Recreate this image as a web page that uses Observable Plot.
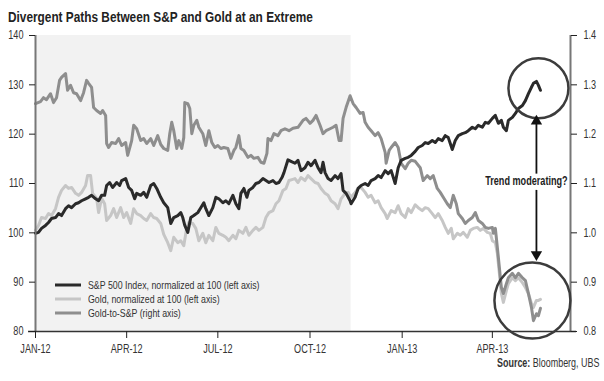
<!DOCTYPE html>
<html><head><meta charset="utf-8">
<script src="https://cdn.jsdelivr.net/npm/d3@7"></script>
<script src="https://cdn.jsdelivr.net/npm/@observablehq/plot@0.6"></script>
<style>
body{margin:0;background:#fff;}
#wrap{position:relative;width:604px;height:381px;overflow:hidden;font-family:"Liberation Sans",Arial,sans-serif;color:#222;}
#title{height:26px;box-sizing:border-box;padding:10px 0 0 8px;font-size:14px;line-height:14px;font-weight:bold;color:#222;white-space:nowrap;}
#title span{display:inline-block;transform:scaleX(0.845);transform-origin:0 50%;}
#legend{position:absolute;left:55px;top:278px;font-size:11px;color:#333;line-height:14px;}
#legend div{display:flex;align-items:center;height:14px;white-space:nowrap;}
#legend svg{margin-right:7px;flex:none;}
#legend span{display:inline-block;transform:scaleX(0.8);transform-origin:0 50%;}
#source{position:absolute;right:5px;top:356px;font-size:12px;color:#333;white-space:nowrap;transform:scaleX(0.745);transform-origin:100% 50%;}
</style></head>
<body><div id="wrap"><div id="title"><span>Divergent Paths Between S&amp;P and Gold at an Extreme</span></div><div id="chart"></div><div id="legend"></div><div id="source"><b>Source:</b> Bloomberg, UBS</div></div>
<script>
// ---- data ----
const sp500 = [["2012-01-01",99.9],["2012-01-04",100.1],["2012-01-07",100.9],["2012-01-11",101.5],["2012-01-14",102.1],["2012-01-17",102.9],["2012-01-21",103.1],["2012-01-24",103.9],["2012-01-27",103.5],["2012-01-31",104.9],["2012-02-03",105.5],["2012-02-06",105.1],["2012-02-10",105.9],["2012-02-13",106.1],["2012-02-16",106.5],["2012-02-20",106.9],["2012-02-23",107.2],["2012-02-26",107.6],["2012-03-01",106.9],["2012-03-04",106.5],["2012-03-07",107.6],["2012-03-10",107.6],["2012-03-12",109.6],["2012-03-15",110.2],["2012-03-18",109.2],["2012-03-22",110.2],["2012-03-25",109.6],["2012-03-27",110.6],["2012-03-31",111.0],["2012-04-03",109.2],["2012-04-06",108.6],["2012-04-09",106.9],["2012-04-11",108.0],["2012-04-15",107.6],["2012-04-18",108.2],["2012-04-21",107.2],["2012-04-25",109.6],["2012-04-28",110.0],["2012-05-01",109.0],["2012-05-05",107.2],["2012-05-08",106.1],["2012-05-12",105.1],["2012-05-15",101.9],["2012-05-18",103.1],["2012-05-22",103.5],["2012-05-25",104.1],["2012-05-27",103.1],["2012-05-29",101.5],["2012-06-01",100.1],["2012-06-04",103.1],["2012-06-07",103.5],["2012-06-11",104.1],["2012-06-14",105.1],["2012-06-17",106.1],["2012-06-19",104.9],["2012-06-22",103.5],["2012-06-26",105.1],["2012-06-29",107.2],["2012-07-02",106.9],["2012-07-06",106.1],["2012-07-09",106.5],["2012-07-12",105.9],["2012-07-16",107.6],["2012-07-19",105.9],["2012-07-22",104.9],["2012-07-24",108.0],["2012-07-27",109.0],["2012-07-30",107.2],["2012-08-01",108.6],["2012-08-05",109.2],["2012-08-08",110.0],["2012-08-11",110.2],["2012-08-15",111.0],["2012-08-18",110.6],["2012-08-21",110.2],["2012-08-25",110.6],["2012-08-28",110.0],["2012-08-31",110.2],["2012-09-03",111.2],["2012-09-05",112.2],["2012-09-09",114.8],["2012-09-12",114.5],["2012-09-16",114.1],["2012-09-19",114.7],["2012-09-22",112.6],["2012-09-26",113.2],["2012-09-29",114.3],["2012-10-02",113.6],["2012-10-06",114.7],["2012-10-09",113.2],["2012-10-12",112.2],["2012-10-14",114.3],["2012-10-16",112.2],["2012-10-19",111.0],["2012-10-22",110.6],["2012-10-26",111.6],["2012-10-29",111.0],["2012-11-01",112.0],["2012-11-03",108.6],["2012-11-06",108.0],["2012-11-10",106.5],["2012-11-11",105.9],["2012-11-15",107.2],["2012-11-18",109.0],["2012-11-21",109.6],["2012-11-25",110.0],["2012-11-28",109.6],["2012-12-01",110.6],["2012-12-05",111.0],["2012-12-08",111.6],["2012-12-11",111.2],["2012-12-15",112.6],["2012-12-18",112.0],["2012-12-21",112.6],["2012-12-25",110.0],["2012-12-28",113.2],["2012-12-31",114.7],["2013-01-04",115.1],["2013-01-07",115.3],["2013-01-10",115.7],["2013-01-14",116.5],["2013-01-17",117.3],["2013-01-21",117.7],["2013-01-24",118.3],["2013-01-27",118.1],["2013-01-31",118.7],["2013-02-03",118.3],["2013-02-06",119.1],["2013-02-10",118.7],["2013-02-13",119.7],["2013-02-16",119.3],["2013-02-18",118.1],["2013-02-20",116.9],["2013-02-23",118.7],["2013-02-26",119.7],["2013-03-02",120.1],["2013-03-05",120.3],["2013-03-08",120.7],["2013-03-12",121.4],["2013-03-15",121.1],["2013-03-18",121.8],["2013-03-22",121.4],["2013-03-25",122.4],["2013-03-28",122.2],["2013-04-01",123.2],["2013-04-04",123.8],["2013-04-07",122.2],["2013-04-10",122.8],["2013-04-12",121.4],["2013-04-15",120.7],["2013-04-17",122.8],["2013-04-21",123.4],["2013-04-24",124.2],["2013-04-27",125.2],["2013-05-01",125.8],["2013-05-04",126.8],["2013-05-07",128.2],["2013-05-10",129.5],["2013-05-12",130.3],["2013-05-15",130.7],["2013-05-17",129.9],["2013-05-19",128.9]];

const gold = [["2012-01-01",100.5],["2012-01-04",101.5],["2012-01-07",103.1],["2012-01-11",102.9],["2012-01-14",103.9],["2012-01-17",103.5],["2012-01-21",104.9],["2012-01-24",107.2],["2012-01-27",108.6],["2012-01-31",109.6],["2012-02-03",109.0],["2012-02-06",109.2],["2012-02-10",108.0],["2012-02-13",107.6],["2012-02-16",108.2],["2012-02-20",109.6],["2012-02-22",111.6],["2012-02-25",111.6],["2012-02-27",108.0],["2012-03-02",107.0],["2012-03-04",104.1],["2012-03-07",107.0],["2012-03-10",105.9],["2012-03-12",102.5],["2012-03-16",103.5],["2012-03-19",104.9],["2012-03-22",103.1],["2012-03-26",105.1],["2012-03-29",103.1],["2012-04-01",104.1],["2012-04-05",101.9],["2012-04-08",104.9],["2012-04-11",103.9],["2012-04-15",103.5],["2012-04-18",102.9],["2012-04-21",102.5],["2012-04-25",103.9],["2012-04-28",103.1],["2012-05-01",102.9],["2012-05-05",101.9],["2012-05-08",99.7],["2012-05-12",98.0],["2012-05-15",96.4],["2012-05-18",99.1],["2012-05-22",98.0],["2012-05-25",98.4],["2012-05-28",97.4],["2012-05-31",101.1],["2012-06-02",102.1],["2012-06-06",101.9],["2012-06-09",100.9],["2012-06-12",98.4],["2012-06-16",99.9],["2012-06-19",98.0],["2012-06-22",99.5],["2012-06-26",98.4],["2012-06-29",101.1],["2012-07-02",99.9],["2012-07-06",99.5],["2012-07-09",99.1],["2012-07-12",98.4],["2012-07-16",99.5],["2012-07-19",98.8],["2012-07-22",100.5],["2012-07-26",99.9],["2012-07-29",101.1],["2012-08-01",99.5],["2012-08-05",100.5],["2012-08-08",101.1],["2012-08-11",100.5],["2012-08-15",101.1],["2012-08-18",103.1],["2012-08-21",104.1],["2012-08-25",104.5],["2012-08-28",105.9],["2012-08-31",106.5],["2012-09-04",108.6],["2012-09-07",109.0],["2012-09-10",110.6],["2012-09-13",110.8],["2012-09-16",111.0],["2012-09-19",110.2],["2012-09-22",111.2],["2012-09-26",110.6],["2012-09-29",111.6],["2012-10-02",111.0],["2012-10-06",110.2],["2012-10-09",110.0],["2012-10-12",109.0],["2012-10-16",108.0],["2012-10-19",107.6],["2012-10-22",106.5],["2012-10-26",105.9],["2012-10-29",104.9],["2012-11-01",106.9],["2012-11-05",108.0],["2012-11-08",108.2],["2012-11-11",107.2],["2012-11-15",108.2],["2012-11-18",109.0],["2012-11-21",109.2],["2012-11-25",108.2],["2012-11-28",107.2],["2012-12-01",107.6],["2012-12-05",106.1],["2012-12-08",106.5],["2012-12-11",105.1],["2012-12-15",103.9],["2012-12-17",102.9],["2012-12-21",104.5],["2012-12-25",104.1],["2012-12-28",105.5],["2012-12-31",103.9],["2013-01-04",103.1],["2013-01-07",104.9],["2013-01-10",104.1],["2013-01-14",105.7],["2013-01-17",105.1],["2013-01-21",104.5],["2013-01-24",105.1],["2013-01-27",104.9],["2013-01-31",103.9],["2013-02-03",103.1],["2013-02-06",103.9],["2013-02-10",102.5],["2013-02-13",101.1],["2013-02-16",99.9],["2013-02-19",100.9],["2013-02-21",98.8],["2013-02-25",99.9],["2013-02-28",99.5],["2013-03-03",100.1],["2013-03-07",99.1],["2013-03-10",100.5],["2013-03-13",100.9],["2013-03-17",101.1],["2013-03-20",100.5],["2013-03-23",100.9],["2013-03-27",100.1],["2013-03-30",99.9],["2013-04-01",98.4],["2013-04-04",98.0],["2013-04-06",95.8],["2013-04-08",91.8],["2013-04-10",87.7],["2013-04-12",85.9],["2013-04-15",88.3],["2013-04-17",89.7],["2013-04-21",90.9],["2013-04-24",90.3],["2013-04-27",90.9],["2013-05-01",89.9],["2013-05-04",88.9],["2013-05-07",87.7],["2013-05-10",85.7],["2013-05-12",84.9],["2013-05-15",86.3],["2013-05-17",86.3],["2013-05-19",86.5]];

const goldToSP = [["2012-01-01",1.262],["2012-01-06",1.266],["2012-01-09",1.274],["2012-01-12",1.270],["2012-01-16",1.282],["2012-01-19",1.264],["2012-01-22",1.274],["2012-01-25",1.309],["2012-01-27",1.315],["2012-01-31",1.323],["2012-02-02",1.289],["2012-02-05",1.299],["2012-02-08",1.284],["2012-02-11",1.282],["2012-02-15",1.268],["2012-02-18",1.284],["2012-02-21",1.309],["2012-02-23",1.303],["2012-02-26",1.295],["2012-02-28",1.254],["2012-03-02",1.248],["2012-03-06",1.242],["2012-03-08",1.248],["2012-03-11",1.238],["2012-03-12",1.181],["2012-03-14",1.173],["2012-03-17",1.183],["2012-03-21",1.181],["2012-03-24",1.191],["2012-03-27",1.177],["2012-03-31",1.183],["2012-04-02",1.157],["2012-04-06",1.187],["2012-04-08",1.218],["2012-04-11",1.211],["2012-04-15",1.187],["2012-04-18",1.191],["2012-04-21",1.181],["2012-04-25",1.191],["2012-04-28",1.177],["2012-05-02",1.197],["2012-05-05",1.179],["2012-05-08",1.171],["2012-05-12",1.167],["2012-05-14",1.201],["2012-05-16",1.224],["2012-05-18",1.207],["2012-05-21",1.171],["2012-05-23",1.187],["2012-05-26",1.171],["2012-05-28",1.193],["2012-05-29",1.264],["2012-06-01",1.262],["2012-06-03",1.252],["2012-06-05",1.201],["2012-06-07",1.218],["2012-06-10",1.228],["2012-06-12",1.214],["2012-06-16",1.201],["2012-06-19",1.177],["2012-06-22",1.207],["2012-06-25",1.183],["2012-06-28",1.173],["2012-07-01",1.177],["2012-07-04",1.171],["2012-07-07",1.173],["2012-07-11",1.171],["2012-07-14",1.151],["2012-07-17",1.167],["2012-07-19",1.173],["2012-07-22",1.197],["2012-07-24",1.171],["2012-07-27",1.167],["2012-07-31",1.153],["2012-08-03",1.157],["2012-08-06",1.151],["2012-08-10",1.153],["2012-08-13",1.143],["2012-08-16",1.141],["2012-08-19",1.161],["2012-08-20",1.191],["2012-08-23",1.187],["2012-08-26",1.201],["2012-08-30",1.197],["2012-09-02",1.207],["2012-09-06",1.211],["2012-09-10",1.207],["2012-09-14",1.212],["2012-09-19",1.214],["2012-09-24",1.228],["2012-09-27",1.232],["2012-10-01",1.222],["2012-10-04",1.228],["2012-10-07",1.238],["2012-10-11",1.218],["2012-10-14",1.201],["2012-10-17",1.207],["2012-10-21",1.211],["2012-10-24",1.214],["2012-10-27",1.218],["2012-10-30",1.187],["2012-11-01",1.187],["2012-11-03",1.232],["2012-11-06",1.254],["2012-11-10",1.278],["2012-11-13",1.262],["2012-11-16",1.254],["2012-11-20",1.242],["2012-11-23",1.244],["2012-11-25",1.224],["2012-11-28",1.214],["2012-12-01",1.207],["2012-12-05",1.197],["2012-12-08",1.203],["2012-12-11",1.191],["2012-12-15",1.163],["2012-12-16",1.141],["2012-12-19",1.167],["2012-12-21",1.173],["2012-12-25",1.183],["2012-12-28",1.173],["2012-12-31",1.141],["2013-01-04",1.130],["2013-01-07",1.141],["2013-01-10",1.147],["2013-01-14",1.145],["2013-01-19",1.132],["2013-01-22",1.106],["2013-01-26",1.116],["2013-01-29",1.110],["2013-02-01",1.116],["2013-02-05",1.090],["2013-02-08",1.082],["2013-02-11",1.072],["2013-02-15",1.059],["2013-02-18",1.051],["2013-02-21",1.076],["2013-02-24",1.059],["2013-02-26",1.039],["2013-03-02",1.029],["2013-03-05",1.019],["2013-03-08",1.025],["2013-03-12",1.031],["2013-03-15",1.041],["2013-03-18",1.025],["2013-03-22",1.019],["2013-03-25",1.011],["2013-03-28",1.009],["2013-04-01",1.011],["2013-04-02",0.999],["2013-04-04",1.009],["2013-04-06",0.970],["2013-04-08",0.930],["2013-04-10",0.889],["2013-04-12",0.877],["2013-04-15",0.897],["2013-04-17",0.909],["2013-04-21",0.918],["2013-04-24",0.909],["2013-04-27",0.918],["2013-05-01",0.909],["2013-05-04",0.903],["2013-05-07",0.877],["2013-05-10",0.849],["2013-05-12",0.822],["2013-05-15",0.836],["2013-05-17",0.832],["2013-05-19",0.847]];

const leftTicks = [80, 90, 100, 110, 120, 130, 140];
const rightTicks = [0.8, 0.9, 1.0, 1.1, 1.2, 1.3, 1.4];
const xTicks = ["2012-01-01","2012-04-01","2012-07-01","2012-10-01","2013-01-01","2013-04-01"];
const xDomain = ["2012-01-01","2013-06-18"];
const shaded = ["2012-01-01","2012-11-11"];
const seriesNames = ["S&P 500 Index, normalized at 100 (left axis)","Gold, normalized at 100 (left axis)","Gold-to-S&P (right axis)"];
const seriesColors = ["#2a2a2a","#c6c6c6","#8e8e8e"];
// annotations (data coordinates)
const circles = [{date:"2013-05-17", value:129.3, r:30},{date:"2013-05-11", value:86.3, r:38}];
const arrows = [{date:"2013-05-15", from:112.0, to:122.6, rot:0},{date:"2013-05-15", from:108.7, to:95.6, rot:180}];
const note = {date:"2013-05-05", value:110.4, text:"Trend moderating?"};

// ---- build ----
const D = s => new Date(s);
const toRows = arr => arr.map(([d, v]) => ({date: D(d), value: v}));
const spRows = toRows(sp500), goldRows = toRows(gold), ratioRows = toRows(goldToSP);
const font = '"Liberation Sans",Arial,sans-serif';
const fmtX = d => d3.utcFormat("%b-%y")(d).toUpperCase();

const chart = Plot.plot({
  width: 604, height: 355,
  marginTop: 9, marginBottom: 50, marginLeft: 35, marginRight: 34,
  style: {fontFamily: font, fontSize: "12px", color: "#333", background: "transparent", overflow: "visible"},
  x: {type: "utc", domain: xDomain.map(D)},
  y: {domain: [80, 140]},
  r: {type: "identity"},
  marks: [
    Plot.rect([0], {x1: () => D(shaded[0]), x2: () => D(shaded[1]), y1: 80, y2: 140, fill: "#f2f2f2"}),
    Plot.line(goldRows, {x: "date", y: "value", stroke: seriesColors[1], strokeWidth: 3, strokeLinejoin: "round"}),
    Plot.line(ratioRows, {x: "date", y: d => d.value * 100, stroke: seriesColors[2], strokeWidth: 3, strokeLinejoin: "round"}),
    Plot.line(spRows, {x: "date", y: "value", stroke: seriesColors[0], strokeWidth: 3, strokeLinejoin: "round"}),
    Plot.ruleX([D(xDomain[0])], {stroke: "#777", strokeWidth: 2}),
    Plot.ruleX([D(xDomain[1])], {stroke: "#777", strokeWidth: 2}),
    Plot.ruleY([80], {stroke: "#333", strokeWidth: 1.5, insetLeft: -7, insetRight: -6}),
    Plot.axisY({ticks: leftTicks, tickSize: 6, tickPadding: 6, tickFormat: d => d, stroke: "#222", fill: "#333", fontSize: 12}),
    Plot.axisY({anchor: "right", ticks: rightTicks.map(r => r * 100), tickSize: 6, tickPadding: 7, tickFormat: d => (d / 100).toFixed(1), stroke: "#222", fill: "#333", fontSize: 12}),
    Plot.axisX({ticks: xTicks.map(D), tickSize: 7, tickPadding: 6, tickFormat: fmtX, stroke: "#222", fill: "#333", fontSize: 12}),
    Plot.dot(circles, {x: d => D(d.date), y: "value", r: "r", stroke: "#3c3c3c", strokeWidth: 2.5, fill: "none"}),
    Plot.link(arrows, {x1: d => D(d.date), x2: d => D(d.date), y1: "from", y2: "to", stroke: "#111", strokeWidth: 1.8}),
    Plot.dot(arrows, {x: d => D(d.date), y: "to", symbol: "triangle", r: 4.2, fill: "#111", rotate: "rot"}),
    Plot.text([note], {x: d => D(d.date), y: "value", text: "text", fontWeight: "bold", fontSize: 12, fill: "#222"})
  ]
});
// condense all SVG text horizontally (the reference uses a condensed face)
chart.querySelectorAll("text").forEach(t => {
  const tr = t.getAttribute("transform");
  if (tr) t.setAttribute("transform", tr + " scale(0.76,1)");
  else {
    const x = +(t.getAttribute("x") || 0);
    t.setAttribute("x", 0);
    t.setAttribute("transform", `translate(${x},0) scale(0.76,1)`);
  }
});
document.getElementById("chart").appendChild(chart);

// legend
const lg = document.getElementById("legend");
seriesNames.forEach((name, i) => {
  const row = document.createElement("div");
  row.innerHTML = `<svg width="26" height="4"><line x1="0" y1="2" x2="26" y2="2" stroke="${seriesColors[i]}" stroke-width="3"/></svg><span></span>`;
  row.querySelector("span").textContent = name;
  lg.appendChild(row);
});
</script></body></html>
